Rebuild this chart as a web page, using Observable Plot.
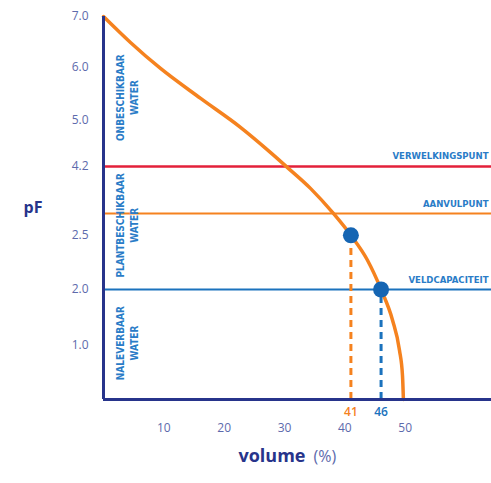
<!DOCTYPE html>
<html>
<head>
<meta charset="utf-8">
<script src="https://cdn.jsdelivr.net/npm/d3@7"></script>
<script src="https://cdn.jsdelivr.net/npm/@observablehq/plot@0.6"></script>
<style>
  html, body { margin: 0; padding: 0; background: #fff; }
  #chart svg { display: block; }
</style>
</head>
<body>
<div id="chart"></div>
<script>
// pF retention curve (volume %, pF)
const curveVolume = [0, 4.47, 9.45, 16.1, 22.7, 27.7, 30.5, 34.3, 38.1, 41, 43.75, 46, 47.9, 49.05, 49.55, 49.7];
const curvePF     = [7.0, 6.49, 5.98, 5.415, 4.88, 4.44, 4.17, 3.64, 3.0, 2.5, 2.27, 2.0, 1.45, 0.91, 0.44, 0];

// y axis tick labels and the (non-linear) axis breakpoints
const yTicks = [1.0, 2.0, 2.5, 4.2, 5.0, 6.0, 7.0];
const yBreaks = [0, 1, 2, 2.5, 3, 4.2, 5, 6, 7];
const yBreakSlots = [0, 0.99, 2.01, 3.0, 3.4, 4.26, 5.1, 6.07, 7];
const xTicks = [10, 20, 30, 40, 50];

// horizontal reference lines
const refNames = ["VERWELKINGSPUNT", "AANVULPUNT", "VELDCAPACITEIT"];
const refPF = [4.2, 3.0, 2.0];
const refColors = ["#e3203a", "#f5821f", "#1b72bd"];

// marked points
const pointVolume = [41, 46];
const pointPF = [2.5, 2.0];
const pointColors = ["#f5821f", "#1b72bd"];

// zone labels
const zoneNames = ["ONBESCHIKBAAR\nWATER", "PLANTBESCHIKBAAR\nWATER", "NALEVERBAAR\nWATER"];
const zonePF = [5.43, 2.73, 1.04];

const curve = curveVolume.map((v, i) => ({v, pf: curvePF[i]}));
const refs = refNames.map((name, i) => ({name, pf: refPF[i], color: refColors[i]}));
const points = pointVolume.map((v, i) => ({v, pf: pointPF[i], color: pointColors[i]}));
const zones = zoneNames.map((name, i) => ({name, pf: zonePF[i]}));

const pfAxis = d3.scaleLinear().domain(yBreaks).range(yBreakSlots);

const xMax = 64.3;
const navy = "#27348b";
const tickColor = "#5d6aac";
const labelBlue = "#2a7cc7";
const narrow = "'DejaVu Sans Condensed', 'DejaVu Sans', sans-serif";

const chart = Plot.plot({
  width: 491,
  height: 483,
  marginLeft: 103,
  marginRight: 0,
  marginTop: 16,
  marginBottom: 84,
  style: {fontFamily: "'Open Sans', sans-serif", background: "#fff"},
  x: {domain: [0, xMax], label: null},
  y: {domain: [0, 7], transform: pfAxis, label: null},
  marks: [
    Plot.axisX(xTicks, {tickSize: 0, tickPadding: 24, fontSize: 12, color: tickColor, label: null}),
    Plot.axisY(yTicks, {tickSize: 0, tickPadding: 15, fontSize: 12, color: tickColor,
                tickFormat: d3.format(".1f"), label: null}),
    // horizontal reference lines
    Plot.ruleY(refs, {y: "pf", x1: 0, x2: xMax, stroke: "color", strokeWidth: d => d.pf === 4.2 ? 2.5 : 2}),
    Plot.text(refs, {x: xMax, y: "pf", text: "name", textAnchor: "end", dx: -3, dy: -10,
                     fill: labelBlue, fontSize: 9.5, fontWeight: "bold", fontFamily: narrow}),
    // dashed drop lines
    Plot.ruleX(points, {x: "v", y1: 0, y2: "pf", stroke: "color", strokeWidth: 3, strokeDasharray: "7,5"}),
    // curve
    Plot.line(curve, {x: "v", y: "pf", stroke: "#f5821f", strokeWidth: 3.5, curve: "monotone-x"}),
    // points
    Plot.dot(points, {x: "v", y: "pf", r: 8, fill: "#1565b3"}),
    // point value labels
    Plot.text(points, {x: "v", y: 0, text: d => String(d.v), dy: 13, fill: "color", fontSize: 12, fontWeight: 600}),
    // frame
    Plot.ruleX([0], {y1: 0, y2: 7, stroke: navy, strokeWidth: 3}),
    Plot.ruleY([0], {x1: 0, x2: xMax, stroke: navy, strokeWidth: 3}),
    // zone labels
    Plot.text(zones, {x: 3.8, y: "pf", text: "name", rotate: -90, lineHeight: 1.4,
                      fill: labelBlue, fontSize: 10, fontWeight: "bold", fontFamily: narrow}),
    // axis titles
    Plot.text(["pF"], {frameAnchor: "left", dx: -80, text: d => d, fill: navy, fontSize: 16, fontWeight: "bold"}),
    Plot.text(["volume"], {frameAnchor: "bottom", dx: 8, dy: 62, textAnchor: "end", text: d => d, fill: navy, fontSize: 18, fontWeight: "bold"}),
    Plot.text(["(%)"], {frameAnchor: "bottom", dx: 16, dy: 62, textAnchor: "start", text: d => d, fill: tickColor, fontSize: 16})
  ]
});
document.getElementById("chart").appendChild(chart);
</script>
</body>
</html>
